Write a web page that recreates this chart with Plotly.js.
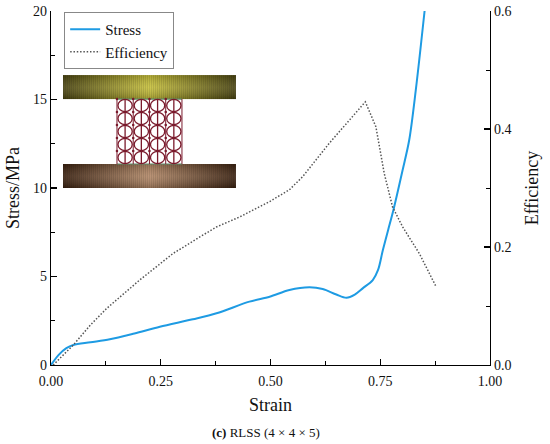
<!DOCTYPE html>
<html>
<head>
<meta charset="utf-8">
<script src="https://cdn.plot.ly/plotly-3.0.1.min.js"></script>
<style>html,body{margin:0;padding:0;background:#fff}#chart{width:550px;height:444px}</style>
</head>
<body>
<div id="chart"></div>
<script>
// ---- data ----
var stressStrain = [0.000, 0.017, 0.035, 0.051, 0.090, 0.134, 0.190, 0.248, 0.323, 0.377, 0.452, 0.498, 0.543, 0.589, 0.619, 0.650, 0.673, 0.692, 0.710, 0.733, 0.745, 0.756, 0.768, 0.780, 0.801, 0.816, 0.831, 0.851];
var stressValues = [0.00, 0.56, 0.95, 1.13, 1.28, 1.45, 1.78, 2.16, 2.58, 2.92, 3.58, 3.86, 4.24, 4.39, 4.29, 3.98, 3.80, 3.98, 4.33, 4.80, 5.37, 6.50, 7.63, 8.76, 11.02, 12.71, 15.54, 20.00];
var effStrain = [0.005, 0.051, 0.090, 0.127, 0.202, 0.278, 0.339, 0.377, 0.430, 0.498, 0.543, 0.573, 0.634, 0.690, 0.716, 0.740, 0.759, 0.778, 0.801, 0.839, 0.877];
var effValues = [0.000, 0.034, 0.068, 0.096, 0.144, 0.189, 0.217, 0.234, 0.251, 0.277, 0.297, 0.319, 0.376, 0.425, 0.446, 0.404, 0.325, 0.268, 0.234, 0.189, 0.133];
var seriesNames = ['Stress', 'Efficiency'];
var xTicks = [0, 0.25, 0.5, 0.75, 1.0];
var xTickLabels = ['0.00', '0.25', '0.50', '0.75', '1.00'];
var yTicks = [0, 5, 10, 15, 20];
var y2Ticks = [0, 0.2, 0.4, 0.6];
var y2TickLabels = ['0.0', '0.2', '0.4', '0.6'];

// ---- inset illustration (lattice between two plates) as inline SVG ----
function insetSVG() {
  var w = 173, h = 113;
  var s = '<svg xmlns="http://www.w3.org/2000/svg" width="' + w + '" height="' + h + '" viewBox="0 0 ' + w + ' ' + h + '">';
  s += '<defs>' +
    '<linearGradient id="gt" x1="0" x2="1" y1="0" y2="0">' +
    '<stop offset="0" stop-color="#4a4410"/><stop offset="0.5" stop-color="#c9c23c"/><stop offset="1" stop-color="#4a4410"/></linearGradient>' +
    '<linearGradient id="gb" x1="0" x2="1" y1="0" y2="0">' +
    '<stop offset="0" stop-color="#3a200e"/><stop offset="0.5" stop-color="#b58a68"/><stop offset="1" stop-color="#3a200e"/></linearGradient>' +
    '<linearGradient id="vt" x1="0" x2="0" y1="0" y2="1">' +
    '<stop offset="0" stop-color="#000" stop-opacity="0.15"/><stop offset="0.5" stop-color="#fff" stop-opacity="0.1"/><stop offset="1" stop-color="#000" stop-opacity="0.2"/></linearGradient>' +
    '<pattern id="st" width="2" height="10" patternUnits="userSpaceOnUse"><rect width="1" height="10" fill="#000" fill-opacity="0.12"/></pattern>' +
    '</defs>';
  s += '<rect x="0" y="0" width="173" height="24" fill="url(#gt)"/>';
  s += '<rect x="0" y="0" width="173" height="24" fill="url(#st)"/>';
  s += '<rect x="0" y="0" width="173" height="24" fill="url(#vt)"/>';
  s += '<rect x="0" y="89" width="173" height="24" fill="url(#gb)"/>';
  s += '<rect x="0" y="89" width="173" height="24" fill="url(#st)"/>';
  s += '<rect x="0" y="89" width="173" height="24" fill="url(#vt)"/>';
  s += '<line x1="54" y1="24" x2="119" y2="24" stroke="#5a8a6a" stroke-width="1.2"/>';
  s += '<line x1="54" y1="89" x2="119" y2="89" stroke="#5a8a6a" stroke-width="1.2"/>';
  var x0 = 54, y0 = 24, cw = 16.25, ch = 13;
  var col = '#7a1a2c';
  for (var i = 0; i < 4; i++) {
    for (var j = 0; j < 5; j++) {
      var cx = x0 + cw * (i + 0.5), cy = y0 + ch * (j + 0.5);
      s += '<ellipse cx="' + cx + '" cy="' + cy + '" rx="' + (cw / 2 - 1) + '" ry="' + (ch / 2 - 0.4) + '" fill="none" stroke="' + col + '" stroke-width="1.3"/>';
      s += '<circle cx="' + (cx - cw / 2) + '" cy="' + (cy - ch / 2) + '" r="1.3" fill="' + col + '"/>';
    }
  }
  for (var k = 0; k <= 4; k++) {
    var lx = x0 + cw * k;
    s += '<line x1="' + lx + '" y1="24" x2="' + lx + '" y2="89" stroke="' + col + '" stroke-width="1"/>';
  }
  for (var k2 = 0; k2 < 4; k2++) {
    var mx = x0 + cw * (k2 + 0.5);
    s += '<line x1="' + mx + '" y1="24" x2="' + mx + '" y2="89" stroke="' + col + '" stroke-width="1.3"/>';
  }
  s += '</svg>';
  return 'data:image/svg+xml;charset=utf-8,' + encodeURIComponent(s);
}

var serif = "'Liberation Serif', 'Times New Roman', 'DejaVu Serif', serif";

var traces = [
  {
    x: stressStrain, y: stressValues, name: seriesNames[0], type: 'scatter', mode: 'lines',
    line: {color: '#1e9be3', width: 2, shape: 'spline', smoothing: 0.9}, yaxis: 'y'
  },
  {
    x: effStrain, y: effValues, name: seriesNames[1], type: 'scatter', mode: 'lines',
    line: {color: '#555555', width: 1.5, dash: '1.5px,1.8px'}, yaxis: 'y2'
  }
];

var axisCommon = {
  showline: true, linecolor: '#000', linewidth: 1.3, showgrid: false, zeroline: false,
  ticks: 'inside', ticklen: 6, tickwidth: 1.2, tickcolor: '#000',
  tickfont: {family: serif, size: 14, color: '#111'}
};

var layout = {
  width: 550, height: 444,
  margin: {l: 51, r: 60, t: 11, b: 79},
  paper_bgcolor: '#fff', plot_bgcolor: '#fff',
  showlegend: true,
  legend: {
    x: 0.03, y: 0.997, xanchor: 'left', yanchor: 'top',
    bgcolor: '#fff', bordercolor: '#888', borderwidth: 1,
    font: {family: serif, size: 15, color: '#111'},
    tracegroupgap: 0
  },
  xaxis: Object.assign({}, axisCommon, {
    range: [0, 1], tickvals: xTicks, ticktext: xTickLabels, ticklabelstandoff: 3,
    minor: {dtick: 0.125, tick0: 0, ticks: 'inside', ticklen: 4, tickwidth: 1, tickcolor: '#000'},
    title: {text: 'Strain', font: {family: serif, size: 18, color: '#111'}, standoff: 10}
  }),
  yaxis: Object.assign({}, axisCommon, {
    range: [0, 20], tickvals: yTicks,
    minor: {dtick: 2.5, tick0: 0, ticks: 'inside', ticklen: 4, tickwidth: 1, tickcolor: '#000'},
    title: {text: 'Stress/MPa', font: {family: serif, size: 18, color: '#111'}, standoff: 8}
  }),
  yaxis2: Object.assign({}, axisCommon, {
    overlaying: 'y', side: 'right', range: [0, 0.6], tickvals: y2Ticks, ticktext: y2TickLabels,
    minor: {dtick: 0.1, tick0: 0, ticks: 'inside', ticklen: 4, tickwidth: 1, tickcolor: '#000'},
    title: {text: 'Efficiency', font: {family: serif, size: 18, color: '#111'}, standoff: 14}
  }),
  images: [{
    source: insetSVG(), xref: 'paper', yref: 'paper',
    x: 0.0273, y: 0.819, sizex: 0.394, sizey: 0.319,
    xanchor: 'left', yanchor: 'top', sizing: 'stretch', layer: 'above'
  }],
  annotations: [{
    text: '<b>(c)</b> RLSS (4 × 4 × 5)', xref: 'paper', yref: 'paper',
    x: 0.49, y: -0.19, xanchor: 'center', yanchor: 'middle', showarrow: false,
    font: {family: serif, size: 13, color: '#111'}
  }]
};

Plotly.newPlot('chart', traces, layout, {displayModeBar: false, staticPlot: true});
</script>
</body>
</html>
